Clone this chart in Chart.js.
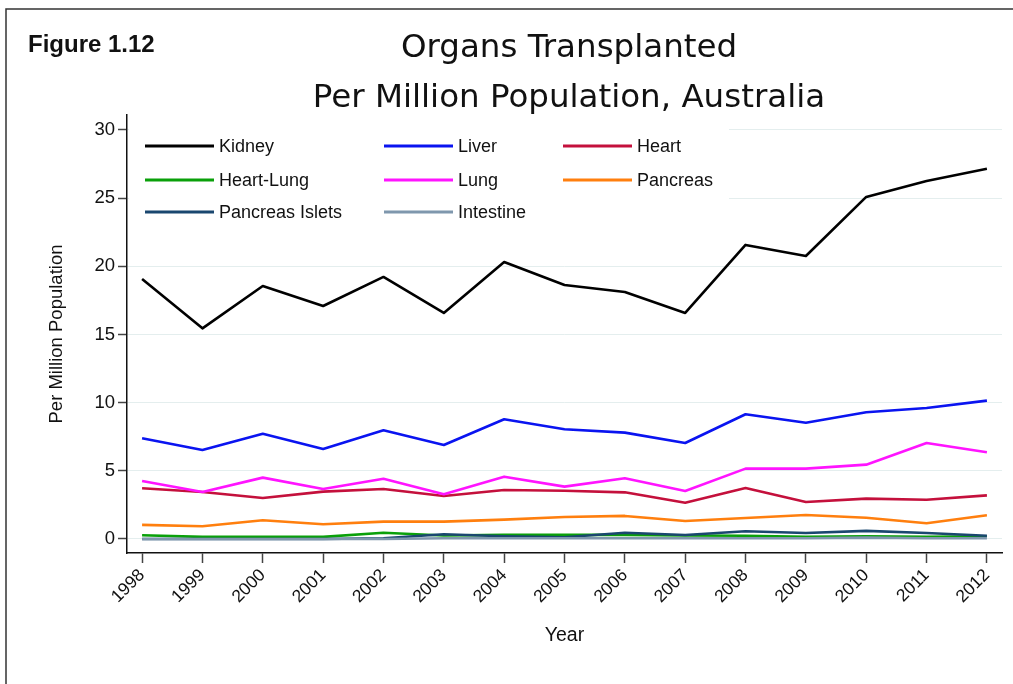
<!DOCTYPE html>
<html>
<head>
<meta charset="utf-8">
<script src="https://cdn.jsdelivr.net/npm/chart.js@4.4.1/dist/chart.umd.min.js"></script>
<style>
  html, body { margin: 0; padding: 0; background: #fff; }
  #wrap { position: relative; width: 1013px; height: 684px; }
  canvas { display: block; }
</style>
</head>
<body>
<div id="wrap"><canvas id="c" width="1013" height="684"></canvas></div>
<script>
const years = [1998,1999,2000,2001,2002,2003,2004,2005,2006,2007,2008,2009,2010,2011,2012];
const yTicks = [0,5,10,15,20,25,30];
const seriesNames = ["Kidney","Liver","Heart","Heart-Lung","Lung","Pancreas","Pancreas Islets","Intestine"];
const kidney   = [19.07,15.45,18.56,17.09,19.22,16.58,20.32,18.63,18.12,16.58,21.57,20.76,25.09,26.26,27.15];
const liver    = [7.39,6.53,7.72,6.60,7.97,6.89,8.78,8.05,7.80,7.04,9.15,8.53,9.29,9.61,10.15];
const heart    = [3.72,3.45,3.01,3.47,3.67,3.15,3.59,3.54,3.42,2.66,3.74,2.71,2.96,2.88,3.20];
const heartLung= [0.27,0.15,0.15,0.15,0.45,0.25,0.30,0.30,0.30,0.25,0.24,0.15,0.20,0.15,0.20];
const lung     = [4.25,3.45,4.50,3.67,4.42,3.28,4.57,3.84,4.45,3.52,5.16,5.16,5.45,7.04,6.36];
const pancreas = [1.03,0.93,1.37,1.08,1.27,1.27,1.42,1.61,1.69,1.32,1.54,1.76,1.56,1.15,1.74];
const islets   = [0.00,0.00,0.00,0.00,0.05,0.34,0.20,0.12,0.46,0.29,0.57,0.44,0.59,0.44,0.24];
const intestine= [0.00,0.00,0.00,0.00,0.00,0.05,0.05,0.05,0.05,0.05,0.05,0.05,0.10,0.05,0.05];
const seriesValues = [kidney, liver, heart, heartLung, lung, pancreas, islets, intestine];
const seriesColors = ["#000000","#0a14f0","#c4103c","#0aa00a","#ff14ff","#ff7f0e","#1a476f","#7f97ad"];

const datasets = seriesNames.map((name, i) => ({
  label: name,
  data: years.map((y, j) => ({x: y, y: seriesValues[i][j]})),
  borderColor: seriesColors[i],
  backgroundColor: seriesColors[i],
  borderWidth: 2.6,
  pointRadius: 0,
  tension: 0,
  borderJoinStyle: 'round',
  order: seriesNames.length - 1 - i
}));

const FONT = "'Liberation Sans', Arial, sans-serif";

const decor = {
  id: 'decor',
  beforeDraw(chart) {
    const ctx = chart.ctx;
    ctx.save();
    ctx.fillStyle = '#fff';
    ctx.fillRect(0, 0, chart.width, chart.height);
    ctx.strokeStyle = '#333';
    ctx.lineWidth = 1.5;
    ctx.beginPath();
    ctx.moveTo(6, 684);
    ctx.lineTo(6, 9);
    ctx.lineTo(1013, 9);
    ctx.stroke();
    ctx.restore();
  },
  beforeDatasetsDraw(chart) {
    const ctx = chart.ctx;
    ctx.save();
    ctx.fillStyle = '#fff';
    ctx.fillRect(129, 124, 600, 104);
    const colX = [145, 384, 563];
    const rowY = [146, 180, 212];
    ctx.font = "18px " + FONT;
    ctx.textBaseline = 'middle';
    ctx.textAlign = 'left';
    chart.data.datasets.forEach((ds, i) => {
      const col = i % 3, row = Math.floor(i / 3);
      const x = colX[col], y = rowY[row];
      ctx.strokeStyle = ds.borderColor;
      ctx.lineWidth = 3;
      ctx.beginPath();
      ctx.moveTo(x, y);
      ctx.lineTo(x + 69, y);
      ctx.stroke();
      ctx.fillStyle = '#111';
      ctx.fillText(ds.label, x + 74, y + 1);
    });
    ctx.restore();
  },
  afterDraw(chart) {
    const ctx = chart.ctx;
    ctx.save();
    ctx.fillStyle = '#111';
    ctx.font = "bold 24px " + FONT;
    ctx.textAlign = 'left';
    ctx.textBaseline = 'middle';
    ctx.fillText('Figure 1.12', 28, 45);
    ctx.font = "32.5px 'DejaVu Sans', sans-serif";
    ctx.textAlign = 'center';
    ctx.fillText('Organs Transplanted', 569, 49);
    ctx.fillText('Per Million Population, Australia', 569, 99);
    ctx.restore();
  }
};

new Chart(document.getElementById('c'), {
  type: 'line',
  data: { datasets },
  plugins: [decor],
  options: {
    responsive: false,
    animation: false,
    devicePixelRatio: 1,
    layout: { padding: { top: 115, left: 0, right: 11, bottom: 0 } },
    plugins: { legend: { display: false }, tooltip: { enabled: false }, title: { display: false } },
    scales: {
      x: {
        type: 'linear',
        min: 1997.75,
        max: 2012.25,
        afterBuildTicks: s => { s.ticks = years.map(v => ({value: v})); },
        afterFit: s => { s.height = 131; s.paddingLeft = 0; s.paddingRight = 0; },
        ticks: {
          autoSkip: false, maxRotation: 45, minRotation: 45, padding: 2,
          color: '#111', font: { family: FONT, size: 17.5 },
          callback: v => String(v)
        },
        grid: { drawOnChartArea: false, tickLength: 10, tickColor: '#444', tickWidth: 1.5 },
        border: { color: '#111', width: 1.5 },
        title: { display: true, text: 'Year', color: '#111', font: { family: FONT, size: 19.5 }, padding: { top: 0, bottom: 37 } }
      },
      y: {
        min: -1.03,
        max: 31.1,
        afterBuildTicks: s => { s.ticks = yTicks.map(v => ({value: v})); },
        afterFit: s => { s.width = 127; s.paddingTop = 0; s.paddingBottom = 0; },
        ticks: { padding: 3, color: '#111', font: { family: FONT, size: 18.5 }, callback: v => String(v) },
        grid: { color: '#e4eeee', lineWidth: 1, tickLength: 9, tickColor: '#444', tickWidth: 1.5 },
        border: { color: '#111', width: 1.5 },
        title: { display: true, text: 'Per Million Population', color: '#111', font: { family: FONT, size: 18.5 }, padding: { top: 46, bottom: 0 } }
      }
    }
  }
});
</script>
</body>
</html>
